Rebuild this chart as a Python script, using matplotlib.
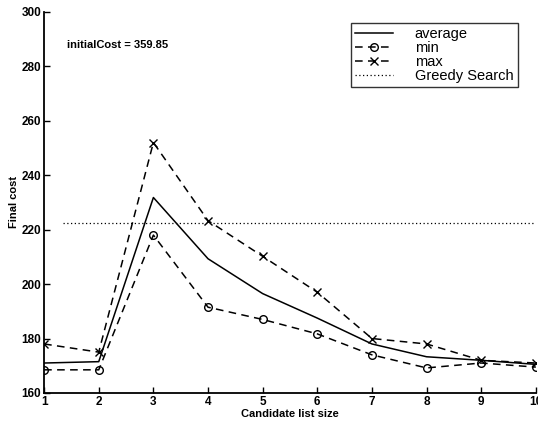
import matplotlib
matplotlib.use("Agg")
import matplotlib.pyplot as plt

plt.rcParams['font.family'] = ['Liberation Sans', 'DejaVu Sans']

x = [1, 2, 3, 4, 5, 6, 7, 8, 9, 10]
average = [171, 171.5, 231.8, 209.3, 196.5, 187.5, 178, 173.3, 172, 170.5]
minimum = [168.5, 168.5, 218, 191.5, 187, 181.7, 174, 169.2, 171, 169.5]
maximum = [178, 175, 252, 223.3, 210.2, 197, 180, 178, 172, 171]
greedy = 222.5
greedy_x = [1.35, 10]
initial_cost_text = "initialCost = 359.85"

fig = plt.figure(figsize=(5.38, 4.23), dpi=100)
ax = fig.add_axes([0.082, 0.071, 0.914, 0.901])

ax.plot(x, average, '-', color='black', lw=1.1, label='average')
ax.plot(x, minimum, '--', color='black', lw=1.1, marker='o', ms=5.5,
        mfc='none', mew=1.0, dashes=(5, 3.5), label='min')
ax.plot(x, maximum, '--', color='black', lw=1.1, marker='x', ms=5.5,
        mew=1.0, dashes=(5, 3.5), label='max')
ax.plot(greedy_x, [greedy, greedy], color='black', lw=0.9,
        linestyle=(0, (1, 2)), label='Greedy Search')

ax.set_xlim(1, 10)
ax.set_ylim(160, 300)
ax.set_xticks(x)
ax.set_yticks(range(160, 301, 20))
ax.tick_params(direction='in', length=4, width=1, labelsize=8.5, pad=2)
for lab in ax.get_xticklabels() + ax.get_yticklabels():
    lab.set_fontweight('bold')
ax.spines['top'].set_visible(False)
ax.spines['right'].set_visible(False)
ax.spines['left'].set_linewidth(1.3)
ax.spines['bottom'].set_linewidth(1.3)

ax.set_xlabel('Candidate list size', fontsize=8, fontweight='bold', labelpad=1)
ax.set_ylabel('Final cost', fontsize=8, fontweight='bold', labelpad=2)

ax.text(1.42, 287.9, initial_cost_text, fontsize=8, fontweight='bold',
        va='center', ha='left')

leg = ax.legend(loc='upper right', bbox_to_anchor=(0.972, 0.983),
                fontsize=10.5, frameon=True, fancybox=False, edgecolor='black',
                handlelength=2.6, handletextpad=1.5, borderpad=0.3,
                labelspacing=0.0, borderaxespad=0.3)
leg.get_frame().set_linewidth(1.0)

fig.savefig('out.png', dpi=100)
